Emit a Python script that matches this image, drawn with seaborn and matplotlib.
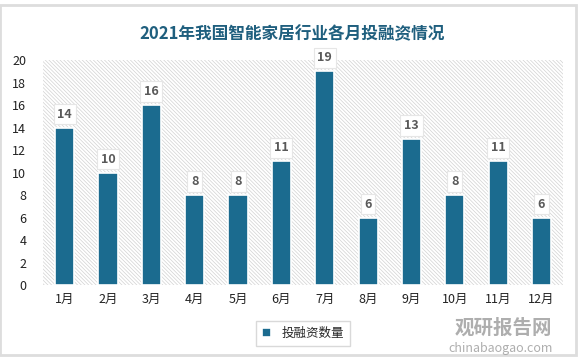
import matplotlib
matplotlib.use("Agg")
import matplotlib.pyplot as plt
import seaborn as sns
import pandas as pd
from matplotlib.patches import Rectangle

months = ["1月", "2月", "3月", "4月", "5月", "6月", "7月", "8月", "9月", "10月", "11月", "12月"]
values = [14, 10, 16, 8, 8, 11, 19, 6, 13, 8, 11, 6]
series_name = "投融资数量"
title = "2021年我国智能家居行业各月投融资情况"

sns.set_theme(style="white")
plt.rcParams['font.family'] = ['Noto Sans CJK SC', 'DejaVu Sans']
plt.rcParams['hatch.linewidth'] = 0.5

df = pd.DataFrame({"月份": months, series_name: values})

fig = plt.figure(figsize=(5.85, 3.62), dpi=100)
fig.patch.set_facecolor('white')
fig.patches.append(Rectangle((0.0, 0.02), 0.985, 0.965, transform=fig.transFigure,
                             facecolor='none', edgecolor='#dddddd', lw=2, zorder=0))

ax = fig.add_axes([0.0735, 0.2127, 0.889, 0.6215])
bar_color = '#1b6b8f'
sns.barplot(data=df, x="月份", y=series_name, color=bar_color, saturation=1, width=0.44,
            edgecolor='white', linewidth=1.2, ax=ax, label=series_name, zorder=3)

ax.set_ylim(0, 20)
ax.set_xlim(-0.5, len(months) - 0.5)
ax.set_yticks(range(0, 21, 2))
ax.add_patch(Rectangle((-0.5, 0), len(months), 20, facecolor='white', edgecolor='#d2d2d2',
                       lw=0, hatch='\\' * 9, zorder=0))
for s in ax.spines.values():
    s.set_visible(False)
ax.tick_params(axis='both', length=0, labelsize=9, colors='#222222')
ax.tick_params(axis='y', pad=12)
ax.tick_params(axis='x', pad=6)
ax.set_xlabel("")
ax.set_ylabel("")

for i, v in enumerate(values):
    ax.annotate(str(v), (i, v), xytext=(0, 5), textcoords='offset points',
                ha='center', va='bottom', fontsize=9, fontweight='bold', color='#595959',
                bbox=dict(boxstyle='square,pad=0.3', facecolor='white', edgecolor='#e6e6e6', lw=0.8),
                zorder=5)

fig.text(0.5, 0.905, title, ha='center', va='center', fontsize=12, fontweight='bold',
         color='#1f5f7e')

leg = ax.legend(loc='upper center', bbox_to_anchor=(0.5, -0.13), frameon=True, fancybox=False,
                fontsize=9, handlelength=0.7, handleheight=0.7, borderpad=0.5, edgecolor='#d0d0d0')
leg.get_frame().set_linewidth(1.0)

fig.text(0.86, 0.095, "观研报告网", ha='center', va='center', fontsize=14, fontweight='bold',
         color='#9a9a9a', alpha=0.8)
fig.text(0.855, 0.038, "chinabaogao.com", ha='center', va='center', fontsize=9,
         color='#9a9a9a', alpha=0.8)

fig.savefig("out.png", dpi=100)
